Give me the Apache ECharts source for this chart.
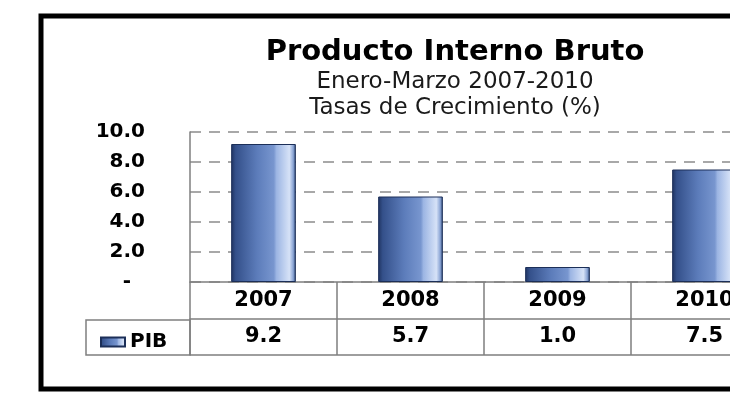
<!DOCTYPE html>
<html>
<head>
<meta charset="utf-8">
<script src="https://cdn.jsdelivr.net/npm/echarts@6/dist/echarts.min.js"></script>
<style>
html,body{margin:0;padding:0;background:#fff;overflow:hidden;width:730px;height:400px;}
#chart{width:800px;height:400px;}
</style>
</head>
<body>
<div id="chart"></div>
<script>
const categories = ['2007', '2008', '2009', '2010'];
const pib = [9.2, 5.7, 1.0, 7.5];
const seriesName = 'PIB';
const yTicks = { min: 0, max: 10, interval: 2 };
const titleText = 'Producto Interno Bruto';
const subText = 'Enero-Marzo 2007-2010\nTasas de Crecimiento (%)';

const FONT = 'DejaVu Sans';
const barColor = new echarts.graphic.LinearGradient(0, 0, 1, 0, [
  { offset: 0, color: '#1f3360' },
  { offset: 0.07, color: '#34508a' },
  { offset: 0.4, color: '#5c7cba' },
  { offset: 0.66, color: '#7896cf' },
  { offset: 0.7, color: '#9cb5e3' },
  { offset: 0.9, color: '#d6e2f7' },
  { offset: 0.96, color: '#8aa4d4' },
  { offset: 1, color: '#2c4575' }
]);

const chart = echarts.init(document.getElementById('chart'), null, { renderer: 'canvas' });
chart.setOption({
  backgroundColor: '#ffffff',
  animation: false,
  title: {
    text: titleText,
    subtext: subText,
    left: 450,
    top: 31,
    textAlign: 'center',
    itemGap: 1,
    textStyle: { fontFamily: FONT, fontWeight: 'bold', fontSize: 29, color: '#000', lineHeight: 32 },
    subtextStyle: { fontFamily: FONT, fontSize: 23, color: '#1a1a1a', lineHeight: 26 }
  },
  legend: {
    data: [seriesName],
    left: 95,
    top: 327,
    icon: 'rect',
    itemWidth: 24,
    itemHeight: 9,
    itemGap: 6,
    textStyle: { fontFamily: FONT, fontWeight: 'bold', fontSize: 20, color: '#000' }
  },
  grid: { left: 190, right: 22, top: 132, bottom: 118 },
  xAxis: [
    {
      type: 'category',
      data: categories,
      position: 'bottom',
      axisLine: { show: true, lineStyle: { color: '#7f7f7f', width: 1.5 } },
      axisTick: { show: true, interval: 0, length: 73, lineStyle: { color: '#7f7f7f', width: 1.5 } },
      axisLabel: { margin: 8, fontFamily: FONT, fontWeight: 'bold', fontSize: 21, color: '#000' },
      splitLine: { show: false }
    },
    {
      type: 'category',
      data: categories,
      position: 'bottom',
      offset: 37,
      axisLine: { show: true, lineStyle: { color: '#7f7f7f', width: 1.5 } },
      axisTick: { show: false },
      axisLabel: {
        margin: 7, fontFamily: FONT, fontWeight: 'bold', fontSize: 21, color: '#000',
        formatter: function (v, i) { return pib[i].toFixed(1); }
      },
      splitLine: { show: false }
    },
    {
      type: 'category',
      data: categories,
      position: 'bottom',
      offset: 73,
      axisLine: { show: true, lineStyle: { color: '#7f7f7f', width: 1.5 } },
      axisTick: { show: false },
      axisLabel: { show: false },
      splitLine: { show: false }
    }
  ],
  yAxis: {
    type: 'value',
    min: yTicks.min,
    max: yTicks.max,
    interval: yTicks.interval,
    axisLine: { show: true, lineStyle: { color: '#7f7f7f', width: 1.5 } },
    axisTick: { show: false },
    axisLabel: {
      margin: 45, fontFamily: FONT, fontWeight: 'bold', fontSize: 20, color: '#000',
      formatter: function (v) { return v === 0 ? '-  ' : v.toFixed(1); }
    },
    splitLine: { show: true, lineStyle: { color: '#8c8c8c', width: 1.5, type: [11, 8] } }
  },
  series: [{
    name: seriesName,
    type: 'bar',
    data: pib,
    xAxisIndex: 0,
    barWidth: '44%',
    itemStyle: { color: barColor, borderColor: '#1c2f58', borderWidth: 1 }
  }],
  graphic: [
    {
      type: 'rect',
      shape: { x: 86, y: 320, width: 104, height: 35 },
      style: { fill: 'none', stroke: '#7f7f7f', lineWidth: 1.5 },
      silent: true
    },
    {
      type: 'rect',
      shape: { x: 41, y: 16, width: 750, height: 373 },
      style: { fill: 'none', stroke: '#000', lineWidth: 5 },
      silent: true
    }
  ]
});
</script>
</body>
</html>
